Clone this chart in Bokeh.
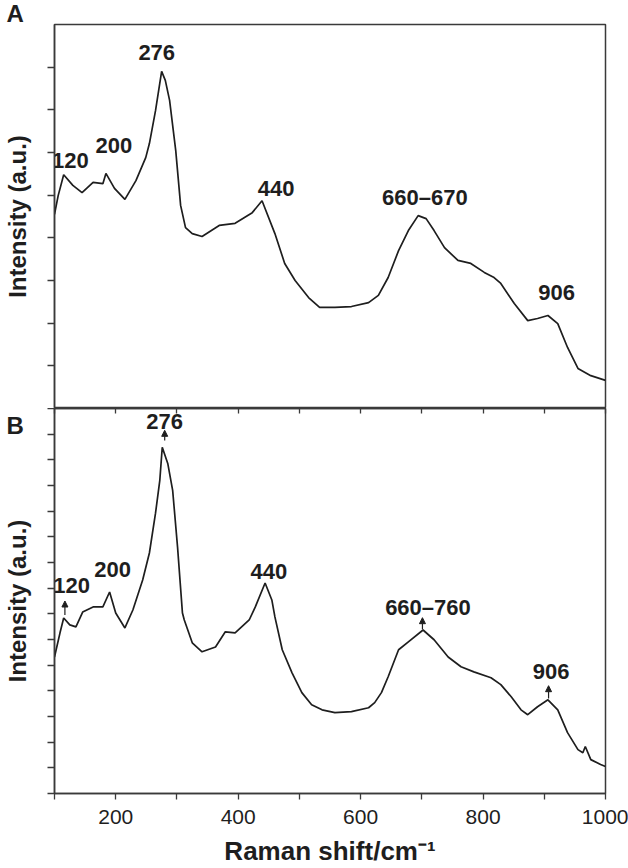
from bokeh.plotting import figure
from bokeh.layouts import column
from bokeh.models import (Range1d, FixedTicker, LinearAxis, CustomJSTickFormatter,
                          Arrow, NormalHead, Label)
from bokeh.core.properties import value
from bokeh.embed import file_html
from bokeh.resources import INLINE

# ---------------- data ----------------
a_shift = [100, 106, 115, 130, 145, 163, 179, 184, 198, 215, 233, 249, 255, 265, 275, 281,
           288, 298, 306, 314, 325, 341, 369, 395, 423, 439, 460, 476, 493, 515, 533, 558,
           585, 613, 629, 645, 662, 678, 694, 707, 720, 737, 759, 780, 802, 818, 829, 851,
           873, 889, 906, 922, 938, 955, 976, 1000]
a_int = [4.55, 4.99, 5.48, 5.23, 5.06, 5.30, 5.27, 5.51, 5.16, 4.90, 5.34, 5.88, 6.21, 6.98,
         7.90, 7.69, 7.22, 6.05, 4.76, 4.24, 4.10, 4.03, 4.29, 4.34, 4.59, 4.87, 4.10, 3.40,
         3.00, 2.60, 2.37, 2.37, 2.39, 2.48, 2.65, 3.07, 3.70, 4.17, 4.52, 4.45, 4.17, 3.77,
         3.47, 3.40, 3.19, 3.07, 2.93, 2.46, 2.06, 2.11, 2.18, 1.99, 1.43, 0.94, 0.77, 0.66]

b_shift = [100, 109, 115, 125, 135, 146, 163, 179, 190, 200, 215, 228, 244, 255, 265, 272,
           276, 285, 293, 301, 309, 312, 325, 341, 363, 379, 395, 418, 428, 444, 455, 460,
           472, 488, 504, 520, 537, 558, 585, 613, 623, 634, 645, 662, 678, 702, 720, 743,
           764, 785, 813, 829, 846, 862, 873, 889, 906, 922, 938, 955, 963, 967, 976, 992,
           1000]
b_int = [5.32, 6.26, 6.84, 6.57, 6.49, 7.07, 7.27, 7.27, 7.85, 7.03, 6.45, 7.15, 8.32, 9.37,
         10.92, 12.20, 13.49, 12.86, 11.81, 9.60, 7.03, 6.76, 5.87, 5.52, 5.71, 6.30, 6.26,
         6.76, 7.27, 8.20, 7.54, 6.88, 5.60, 4.70, 3.93, 3.46, 3.26, 3.15, 3.19, 3.34, 3.54,
         3.93, 4.55, 5.60, 5.91, 6.37, 5.99, 5.32, 4.94, 4.74, 4.51, 4.24, 3.77, 3.26, 3.07,
         3.38, 3.65, 3.26, 2.37, 1.71, 1.59, 1.83, 1.32, 1.13, 1.05]

a_labels = ["120", "200", "276", "440", "660\u2013670", "906"]
b_labels = ["120", "200", "276", "440", "660\u2013760", "906"]
x_tick_labels = [200, 400, 600, 800, 1000]

# annotation placement (data coordinates)
a_lab_x = [126, 197, 267, 462, 705, 920]
a_lab_y = [5.81, 6.16, 8.34, 5.16, 4.94, 2.72]
b_lab_x = [128, 195, 280, 450, 710, 911]
b_lab_y = [8.12, 8.71, 14.50, 8.63, 7.23, 4.74]
b_arrow_x = [117, 280, 701, 907]
b_arrow_y0 = [6.95, 13.75, 6.40, 3.70]
b_arrow_y1 = [7.50, 14.15, 6.85, 4.20]

INK = "#1e1e1e"
FRAME = "#3a3a3a"
FONT = "Liberation Sans"
W = 628
FL, FR = 52, 23

empty = CustomJSTickFormatter(code="return ''")


def style_left(p, ticks):
    ax = p.yaxis[0]
    ax.ticker = FixedTicker(ticks=ticks)
    ax.formatter = empty
    ax.major_label_standoff = 0
    ax.major_label_text_font_size = "0px"
    ax.major_tick_in = 0
    ax.major_tick_out = 7
    ax.minor_tick_line_color = None
    ax.major_tick_line_color = FRAME
    ax.major_tick_line_width = 1.3
    ax.axis_line_color = FRAME
    ax.axis_line_width = 1.5
    ax.axis_label = "Intensity (a.u.)"
    ax.axis_label_text_font = FONT
    ax.axis_label_text_font_style = "bold"
    ax.axis_label_text_font_size = "24px"
    ax.axis_label_text_color = INK
    ax.axis_label_standoff = 17


def panel_letter(p, letter, x, y):
    # placed in the (narrow) right side panel so it is not clipped to the frame;
    # its position is still given in data units of the plot
    p.add_layout(Label(x=x, y=y, text=letter, text_font=FONT, text_font_style="bold",
                       text_font_size="24px", text_color=INK, text_align="center",
                       text_baseline="middle"), "right")


# ---------------- panel A ----------------
pa = figure(width=W, height=408, output_backend="svg", toolbar_location=None,
            x_range=Range1d(100, 1000), y_range=Range1d(0, 9),
            min_border_left=FL, min_border_right=FR, min_border_top=24, min_border_bottom=0,
            x_axis_location=None)
pa.grid.visible = False
pa.outline_line_color = FRAME
pa.outline_line_width = 1.5
style_left(pa, [1, 2, 3, 4, 5, 6, 7, 8])
pa.line(a_shift, a_int, line_color=INK, line_width=1.7)
pa.text(x=a_lab_x, y=a_lab_y, text=a_labels, text_font=value(FONT), text_font_style="bold",
        text_font_size="22px", text_align="center", text_baseline="middle", text_color=INK)
panel_letter(pa, "A", 35.8, 9.26)

# ---------------- panel B ----------------
pb = figure(width=W, height=460, output_backend="svg", toolbar_location=None,
            x_range=Range1d(100, 1000), y_range=Range1d(0, 15),
            min_border_left=FL, min_border_right=FR, min_border_top=0, min_border_bottom=74)
pb.grid.visible = False
pb.outline_line_color = FRAME
pb.outline_line_width = 1.5
style_left(pb, list(range(0, 16)))

xb = pb.xaxis[0]
xb.ticker = FixedTicker(ticks=x_tick_labels, minor_ticks=[100, 300, 500, 700, 900])
xb.major_tick_in = 0
xb.major_tick_out = 6
xb.minor_tick_in = 0
xb.minor_tick_out = 6
xb.major_tick_line_color = FRAME
xb.minor_tick_line_color = FRAME
xb.major_tick_line_width = 1.3
xb.minor_tick_line_width = 1.3
xb.axis_line_color = FRAME
xb.axis_line_width = 1.5
xb.major_label_text_font = FONT
xb.major_label_text_font_size = "21px"
xb.major_label_text_color = INK
xb.major_label_standoff = 10
xb.axis_label = "Raman shift/cm\u207b\u00b9"
xb.axis_label_text_font = FONT
xb.axis_label_text_font_style = "bold"
xb.axis_label_text_font_size = "26px"
xb.axis_label_text_color = INK
xb.axis_label_standoff = 9

top = LinearAxis(ticker=FixedTicker(ticks=[100, 200, 300, 400, 500, 600, 700, 800, 900, 1000]),
                 formatter=empty, major_label_standoff=0, major_label_text_font_size="0px",
                 major_tick_in=5, major_tick_out=0, minor_tick_line_color=None,
                 major_tick_line_color=FRAME, major_tick_line_width=1.3,
                 axis_line_color=FRAME, axis_line_width=1.5)
pb.add_layout(top, "above")

pb.line(b_shift, b_int, line_color=INK, line_width=1.7)
pb.text(x=b_lab_x, y=b_lab_y, text=b_labels, text_font=value(FONT), text_font_style="bold",
        text_font_size="22px", text_align="center", text_baseline="middle", text_color=INK)
for x0, y0, y1 in zip(b_arrow_x, b_arrow_y0, b_arrow_y1):
    pb.add_layout(Arrow(x_start=x0, y_start=y0, x_end=x0, y_end=y1, line_color=INK,
                        line_width=1.2,
                        end=NormalHead(size=6, fill_color=INK, line_color=INK, line_width=1)))
panel_letter(pb, "B", 35.8, 14.34)

layout = column(pa, pb, spacing=0)
open("out.html", "w").write(file_html(layout, INLINE))
